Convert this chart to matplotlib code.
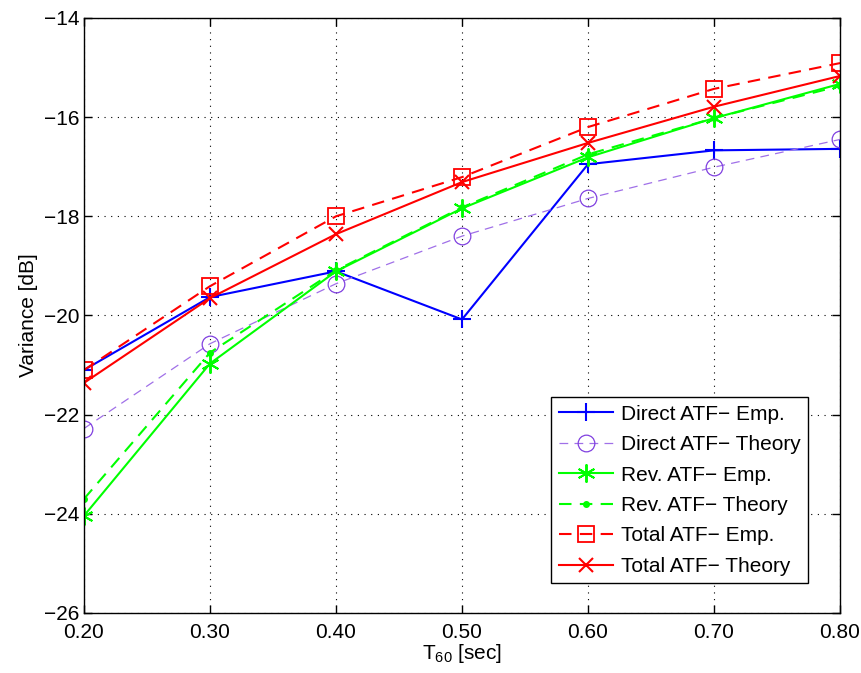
import matplotlib
matplotlib.use("Agg")
import matplotlib.pyplot as plt
from matplotlib.ticker import MultipleLocator

# T60 values and variance curves [dB]
t60 = [0.2, 0.3, 0.4, 0.5, 0.6, 0.7, 0.8]
direct_emp = [-21.10, -19.63, -19.11, -20.08, -16.95, -16.67, -16.64]
direct_theory = [-22.28, -20.57, -19.36, -18.40, -17.64, -17.01, -16.45]
rev_emp = [-24.04, -20.97, -19.11, -17.84, -16.81, -16.02, -15.33]
rev_theory = [-23.70, -20.75, -19.09, -17.82, -16.75, -16.02, -15.37]
total_emp = [-21.10, -19.41, -18.00, -17.21, -16.20, -15.43, -14.91]
total_theory = [-21.36, -19.65, -18.36, -17.31, -16.52, -15.79, -15.17]

xtick_labels = ["0.20", "0.30", "0.40", "0.50", "0.60", "0.70", "0.80"]

plt.rcParams['font.family'] = ['Liberation Sans', 'DejaVu Sans']
plt.rcParams['mathtext.default'] = 'regular'

fig = plt.figure(figsize=(8.62, 6.73), dpi=100)
ax = fig.add_axes([0.0974, 0.0892, 0.8771, 0.8841])

ax.plot(t60, direct_emp, color='blue', linewidth=1.5, marker='+', markersize=13,
        markeredgewidth=1.5, label="Direct ATF\u2212 Emp.")
ax.plot(t60, direct_theory, color='#a070e8', linewidth=0.9, linestyle=(0, (7, 5)),
        marker='o', markersize=12, markerfacecolor='none', markeredgecolor='#8040e0',
        markeredgewidth=0.9, label="Direct ATF\u2212 Theory")
ax.plot(t60, rev_emp, color='#00ff00', linewidth=1.5, marker=(6, 2, 0), markersize=13,
        markeredgewidth=1.4, label="Rev. ATF\u2212 Emp.")
ax.plot(t60, rev_theory, color='#00ff00', linewidth=1.5, linestyle=(0, (6, 4)),
        marker='.', markersize=8, label="Rev. ATF\u2212 Theory")
ax.plot(t60, total_emp, color='red', linewidth=1.5, linestyle=(0, (6, 4)),
        marker='s', markersize=11, markerfacecolor='none', markeredgewidth=1.3,
        label="Total ATF\u2212 Emp.")
ax.plot(t60, total_theory, color='red', linewidth=1.5, marker='x', markersize=10,
        markeredgewidth=1.5, label="Total ATF\u2212 Theory")

ax.set_xlim(0.2, 0.8)
ax.set_ylim(-26, -14)
ax.set_xticks(t60)
ax.set_xticklabels(xtick_labels)
ax.yaxis.set_major_locator(MultipleLocator(2))

ax.grid(True, color='black', linestyle=(0, (1, 5)), linewidth=0.8)
ax.tick_params(axis='both', direction='in', labelsize=15, length=6, width=1,
               top=True, right=True)
ax.tick_params(axis='x', pad=7)
for s in ax.spines.values():
    s.set_linewidth(1.0)

ax.set_xlabel("T$_{60}$ [sec]", fontsize=15, labelpad=0)
ax.set_ylabel("Variance [dB]", fontsize=15)

leg = ax.legend(loc='lower right', bbox_to_anchor=(0.958, 0.05), fontsize=15,
                fancybox=False, edgecolor='black', framealpha=1,
                handlelength=2.6, borderpad=0.35, labelspacing=0.55,
                handletextpad=0.4, borderaxespad=0)
leg.get_frame().set_linewidth(1.0)

plt.savefig("out.png", dpi=100)
plt.close()
